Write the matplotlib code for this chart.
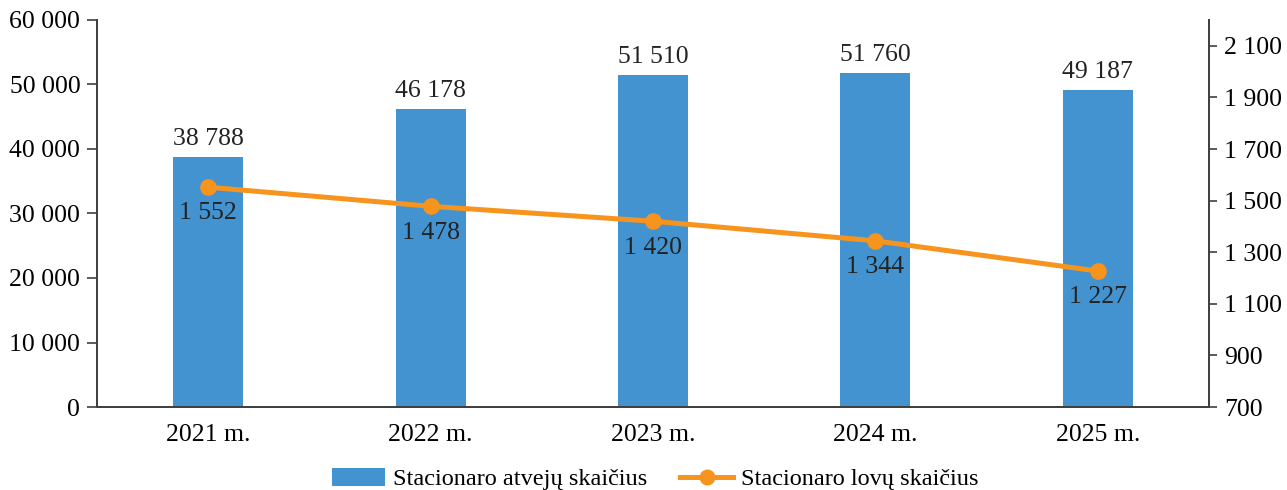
import numpy as np
import matplotlib.pyplot as plt
from matplotlib.ticker import FuncFormatter

years = ["2021 m.", "2022 m.", "2023 m.", "2024 m.", "2025 m."]
cases = [38788, 46178, 51510, 51760, 49187]
beds = [1552, 1478, 1420, 1344, 1227]

bar_color = "#4393D0"
line_color = "#F7941D"
axis_color = "#404040"

plt.rcParams['font.family'] = ['Liberation Serif', 'DejaVu Serif']

def fmt(v):
    return f"{int(v):,}".replace(",", " ")

fig = plt.figure(figsize=(12.87, 4.9), dpi=100)
ax = fig.add_axes([97 / 1287, 1 - 407 / 490, 1112 / 1287, 387 / 490])
ax2 = ax.twinx()

x = np.arange(len(years))
bars = ax.bar(x, cases, width=0.315, color=bar_color, zorder=2,
              label="Stacionaro atvejų skaičius")
line, = ax2.plot(x, beds, color=line_color, lw=3.6, marker="o", ms=11,
                 zorder=3, label="Stacionaro lovų skaičius")

ax.set_xlim(-0.5, len(years) - 0.5)
ax.set_ylim(0, 60000)
ax.set_yticks(np.arange(0, 60001, 10000))
ax.yaxis.set_major_formatter(FuncFormatter(lambda v, p: fmt(v)))
ax2.set_ylim(700, 2200)
ax2.set_yticks(np.arange(700, 2101, 200))
ax2.yaxis.set_major_formatter(FuncFormatter(lambda v, p: fmt(v)))

ax.set_xticks(x)
ax.set_xticklabels(years)

for a in (ax, ax2):
    a.spines['top'].set_visible(False)
    for s in a.spines.values():
        s.set_color(axis_color)
        s.set_linewidth(1.3)
ax.tick_params(axis='y', length=7, width=1.2, color=axis_color, labelsize=18.5, pad=5)
ax2.tick_params(axis='y', length=6, width=1.2, color=axis_color, labelsize=18.5, pad=5)
ax.tick_params(axis='x', length=0, labelsize=18.5, pad=12)

ax2.set_zorder(ax.get_zorder() + 1)
ax2.patch.set_visible(False)

for xi, v in zip(x, cases):
    ax.annotate(fmt(v), (xi, v), xytext=(0, 5), textcoords="offset points",
                ha="center", va="bottom", fontsize=18.5, color="#222222")
for xi, v in zip(x, beds):
    ax2.annotate(fmt(v), (xi, v), xytext=(0, -11), textcoords="offset points",
                 ha="center", va="top", fontsize=18.5, color="#222222")

fig.legend(handles=[bars, line], loc="center", bbox_to_anchor=(655 / 1287, 1 - 479 / 490),
           ncol=2, frameon=False, fontsize=17.5, handlelength=2.2, handleheight=0.78,
           columnspacing=1.35, handletextpad=0.3, markerscale=0.95)

fig.savefig("out.png", dpi=100)
